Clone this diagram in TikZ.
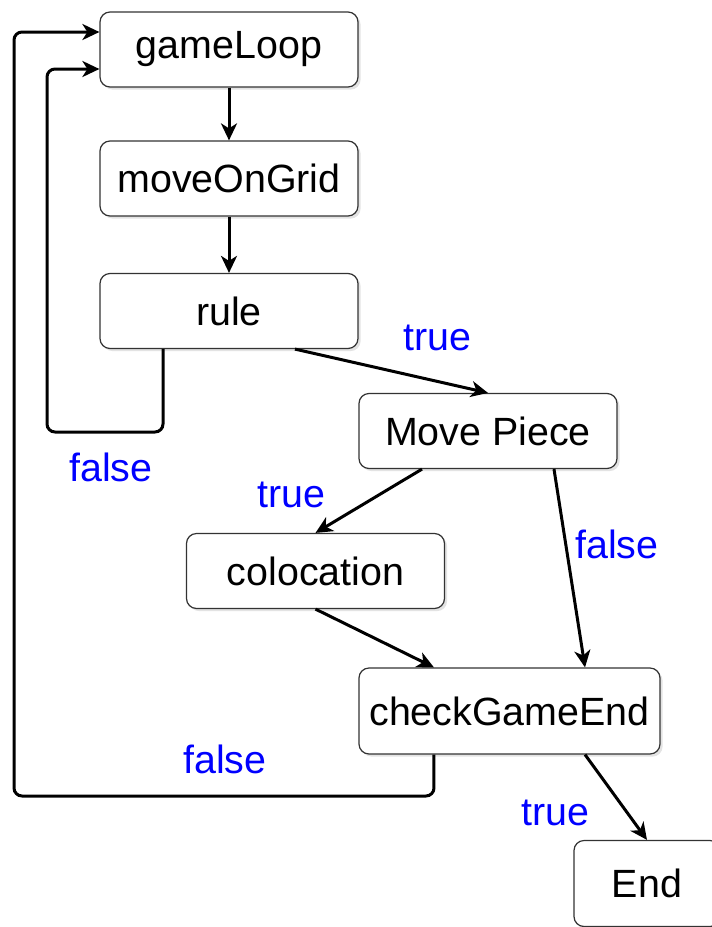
\documentclass[tikz,border=0pt]{standalone}
\usepackage{fontspec}
\setmainfont{Liberation Sans}
\usetikzlibrary{
  arrows.meta,
  shadows,
  calc,
  positioning
}

\begin{document}
\begin{tikzpicture}[
      x=0.5pt,y=-0.5pt,
      block/.style={
         rectangle,
         rounded corners=5pt,
         draw=black!80,
         line width=0.6pt,
         fill=white,
         drop shadow={shadow xshift=1.3pt,shadow yshift=-1.3pt,fill=black!22},
         minimum width=129pt,
         minimum height=37.5pt,
         inner sep=0pt,
         font=\fontsize{19.7}{23.6}\selectfont
      },
      cond/.style={
         text=blue,
         inner sep=0pt,
         font=\fontsize{19.7}{23.6}\selectfont
      },
      >={Stealth[length=8.5pt,width=8pt,inset=2.5pt]},
      flow/.style={->,line width=1.5pt,draw=black},
      back/.style={flow,rounded corners=4pt},
    ]
    \useasboundingbox (0,0) rectangle (712,927);
    \clip (0,0) rectangle (712,927);
    % steps
    \node (gameLoop) [block] at (229,49.5) {gameLoop};
    \node (moveOnGrid) [block] at (229,178.5) {moveOnGrid};
    \node (rule) [block] at (229,311) {rule};
    \node (movePiece) [block] at (488,431) {Move Piece};
    \node (colocation) [block] at (315.5,571) {colocation};
    \node (checkGameEnd) [block, minimum width=150.5pt, minimum height=43pt] at (509.5,711) {checkGameEnd};
    \node (end) [block, minimum width=73pt, minimum height=43pt] at (647,883.5) {End};
    % bends of the loops back
    \coordinate (ruleFalse) at (47,432);
    \coordinate (checkFalse) at (14,796);
    % connectors
    \draw[flow] (gameLoop) -- (moveOnGrid);
    \draw[flow] (moveOnGrid) -- (rule);
    \draw[flow] (rule.-30) -- (movePiece.north);
    \draw[flow] (movePiece.-150) -- (colocation.north);
    \draw[flow] (movePiece.-30) -- (checkGameEnd.30);
    \draw[flow] (colocation.south) -- (checkGameEnd.150);
    \draw[flow] (checkGameEnd.-30) -- (end.north);
    \draw[back] (rule.-150) |- (ruleFalse) |- ($(gameLoop.west)+(0,19.5)$);
    \draw[back] (checkGameEnd.-150) |- (checkFalse) |- ($(gameLoop.west)+(0,-17.5)$);
    % conditions
    \node (trueRule) [cond] at (437,338) {true};
    \node (falseRule) [cond] at (111,467) {false};
    \node (trueMove) [cond] at (291,495) {true};
    \node (falseMove) [cond] at (617,544) {false};
    \node (falseCheck) [cond] at (225,759) {false};
    \node (trueCheck) [cond] at (555,813) {true};
\end{tikzpicture}
\end{document}
